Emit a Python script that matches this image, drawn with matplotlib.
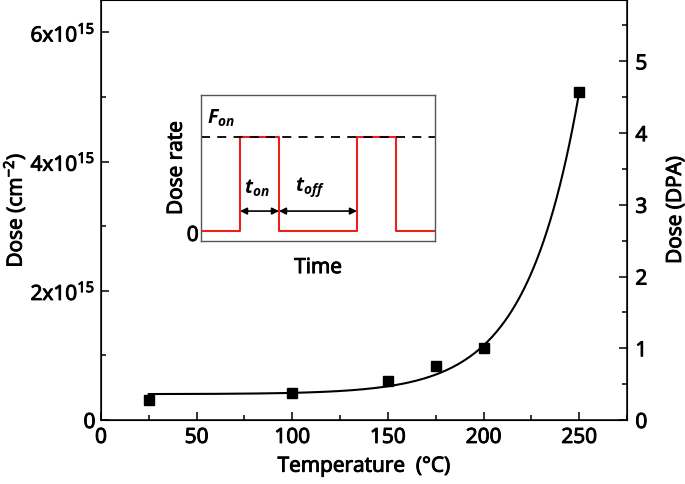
import numpy as np
import matplotlib
matplotlib.use("Agg")
import matplotlib.pyplot as plt
import matplotlib.patheffects as pe
from matplotlib.ticker import MultipleLocator, FixedLocator, FixedFormatter

plt.rcParams['font.family'] = ['Open Sans', 'DejaVu Sans']
plt.rcParams['mathtext.fontset'] = 'custom'
plt.rcParams['mathtext.rm'] = 'Open Sans'
plt.rcParams['mathtext.it'] = 'Open Sans:italic'
plt.rcParams['mathtext.bf'] = 'Open Sans:bold'
plt.rcParams['mathtext.bfit'] = 'Open Sans:italic:bold'

# ---- data ----
temperature = [25, 100, 150, 175, 200, 250]
dose_cm2 = [3.1e14, 4.24e14, 6.0e14, 8.3e14, 1.11e15, 5.07e15]

# exponential fit: y = A + B*exp(C*T)
FIT_A = 4.0e14
FIT_C = 0.0365
FIT_B = 5.09e11
FIT_T_RANGE = (25, 250)

x_ticks = [0, 50, 100, 150, 200, 250]
y_left_ticks = [0, 2e15, 4e15, 6e15]
y_left_labels = ['0', r'2x10$^{15}$', r'4x10$^{15}$', r'6x10$^{15}$']
y_right_ticks = [0, 1, 2, 3, 4, 5]
CM2_PER_DPA = 1.11e15

# inset pulse schematic (time, dose rate)
pulse_time = [0, 1, 1, 2, 2, 4, 4, 5, 5, 6]
pulse_rate = [0, 0, 1, 1, 0, 0, 1, 1, 0, 0]
t_on = (1, 2)
t_off = (2, 4)

BOLDEN = [pe.withStroke(linewidth=0.7, foreground='black')]

fig = plt.figure(figsize=(6.85, 4.85), dpi=100)
ax = fig.add_axes([0.1474, 0.132, 0.768, 0.866])

fs = 15
T = np.linspace(FIT_T_RANGE[0], FIT_T_RANGE[1], 400)
ax.plot(T, FIT_A + FIT_B * np.exp(FIT_C * T), color='black', lw=1.5)
ax.plot(temperature, dose_cm2, 's', color='black', ms=7.5)

ax.set_xlim(0, 275)
ax.set_ylim(0, 6.5e15)
ax.xaxis.set_major_locator(FixedLocator(x_ticks))
ax.xaxis.set_minor_locator(MultipleLocator(25))
ax.yaxis.set_major_locator(FixedLocator(y_left_ticks))
ax.yaxis.set_major_formatter(FixedFormatter(y_left_labels))
ax.yaxis.set_minor_locator(MultipleLocator(1e15))
ax.tick_params(which='both', direction='in', labelsize=fs, width=1.1,
               top=False, right=False)
ax.tick_params(which='major', length=6)
ax.tick_params(axis='x', which='major', pad=5)
ax.tick_params(axis='y', which='major', pad=4)
ax.tick_params(which='minor', length=3.5)
ax.set_xlabel('Temperature  (°C)', fontsize=fs)
ax.set_ylabel(r'Dose (cm$^{-2}$)', fontsize=fs)
ax.xaxis.set_label_coords(0.5, -0.085)
ax.yaxis.set_label_coords(-0.141, 0.5)
for s in ax.spines.values():
    s.set_linewidth(1.1)

ax2 = ax.twinx()
ax2.set_ylim(0, 6.5e15 / CM2_PER_DPA)
ax2.yaxis.set_major_locator(FixedLocator(y_right_ticks))
ax2.yaxis.set_minor_locator(MultipleLocator(0.5))
ax2.tick_params(which='both', direction='in', labelsize=fs, width=1.1)
ax2.tick_params(which='major', length=6, pad=6)
ax2.tick_params(which='minor', length=3.5)
ax2.set_ylabel('Dose (DPA)', fontsize=fs)
ax2.yaxis.set_label_coords(1.072, 0.5)

# inset
ins = fig.add_axes([0.2934, 0.501, 0.3416, 0.301])
ins.plot(pulse_time, pulse_rate, color='#e8211f', lw=1.5)
ins.axhline(1, color='black', lw=1.3, ls=(0, (5, 4)))
ins.set_xlim(0, 6)
ins.set_ylim(-0.11, 1.45)
ins.set_xticks([])
ins.set_yticks([])
for s in ins.spines.values():
    s.set_color('#555555')
    s.set_linewidth(1.0)
ins.set_xlabel('Time', fontsize=fs)
ins.set_ylabel('Dose rate', fontsize=fs)
ins.xaxis.set_label_coords(0.5, -0.11)
ins.yaxis.set_label_coords(-0.061, 0.5)
ins.text(-0.06, -0.05, '0', fontsize=fs, ha='right', va='center', path_effects=BOLDEN)

arrow_y = 0.21
for (a, b) in (t_on, t_off):
    ins.annotate('', xy=(a, arrow_y), xytext=(b, arrow_y),
                 arrowprops=dict(arrowstyle='<|-|>', color='black', lw=1.2,
                                 mutation_scale=10, shrinkA=0, shrinkB=0))
ins.text(0.15, 1.22, r'$\mathbfit{F}_{\mathbfit{on}}$', fontsize=14, ha='left', va='center')
ins.text(1.42, 0.47, r'$\mathbfit{t}_{\mathbfit{on}}$', fontsize=14, ha='center', va='center')
ins.text(2.8, 0.47, r'$\mathbfit{t}_{\mathbfit{off}}$', fontsize=14, ha='center', va='center')

for a in (ax, ax2, ins):
    for lbl in a.get_xticklabels() + a.get_yticklabels():
        lbl.set_path_effects(BOLDEN)
    a.xaxis.label.set_path_effects(BOLDEN)
    a.yaxis.label.set_path_effects(BOLDEN)

fig.savefig('out.png', dpi=100)
